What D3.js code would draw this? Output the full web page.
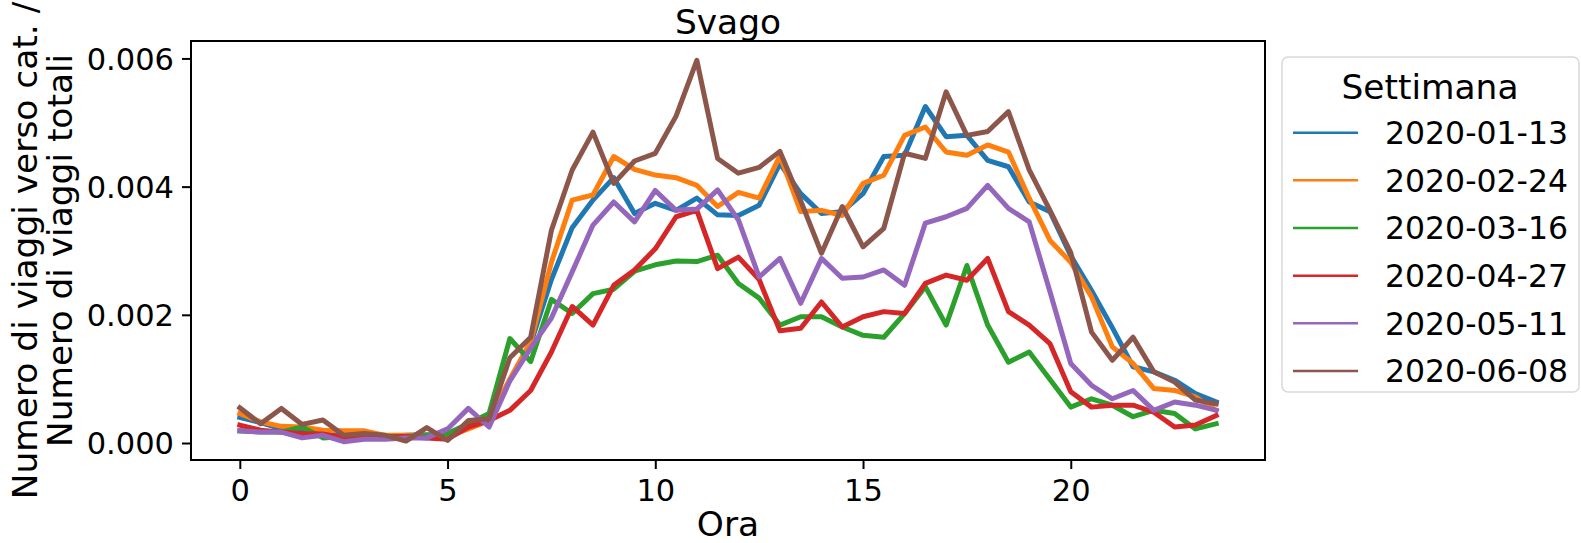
<!DOCTYPE html>
<html>
<head>
<meta charset="utf-8">
<script src="https://cdn.jsdelivr.net/npm/d3@7"></script>
<style>
  html, body { margin: 0; padding: 0; background: #fff; }
  svg { display: block; font-family: "DejaVu Sans", sans-serif; }
</style>
</head>
<body>
<svg id="chart" width="1581" height="543"></svg>
<script>
// ---- Data ----
const hours = d3.range(0, 24, 0.5);
const weeks = ["2020-01-13", "2020-02-24", "2020-03-16", "2020-04-27", "2020-05-11", "2020-06-08"];
const colors = ["#1f77b4", "#ff7f0e", "#2ca02c", "#d62728", "#9467bd", "#8c564b"];

const w20200113 = [0.00040,0.00032,0.00022,0.00018,0.00015,0.00012,0.00012,0.00010,0.00012,0.00013,0.00010,0.00025,0.00040,0.00098,0.00155,0.00255,0.00336,0.00379,0.00414,0.00358,0.00374,0.00363,0.00382,0.00356,0.00355,0.00371,0.00436,0.00389,0.00358,0.00361,0.00389,0.00447,0.00449,0.00525,0.00478,0.00480,0.00441,0.00431,0.00376,0.00361,0.00292,0.00238,0.00180,0.00119,0.00111,0.00098,0.00077,0.00064];
const w20200224 = [0.00046,0.00033,0.00026,0.00025,0.00020,0.00019,0.00019,0.00012,0.00012,0.00012,0.00010,0.00022,0.00035,0.00100,0.00158,0.00282,0.00379,0.00387,0.00447,0.00427,0.00418,0.00414,0.00402,0.00369,0.00391,0.00382,0.00448,0.00361,0.00363,0.00355,0.00405,0.00418,0.00480,0.00493,0.00454,0.00449,0.00465,0.00454,0.00382,0.00316,0.00282,0.00228,0.00150,0.00124,0.00085,0.00082,0.00072,0.00051];
const w20200316 = [0.00019,0.00017,0.00017,0.00025,0.00008,0.00010,0.00012,0.00010,0.00010,0.00012,0.00015,0.00030,0.00046,0.00163,0.00127,0.00224,0.00202,0.00233,0.00240,0.00268,0.00278,0.00284,0.00283,0.00293,0.00249,0.00226,0.00184,0.00197,0.00197,0.00181,0.00168,0.00165,0.00202,0.00244,0.00184,0.00277,0.00184,0.00126,0.00142,0.00099,0.00056,0.00069,0.00059,0.00041,0.00051,0.00046,0.00022,0.00030];
const w20200427 = [0.00028,0.00020,0.00017,0.00015,0.00014,0.00008,0.00008,0.00009,0.00010,0.00008,0.00006,0.00025,0.00035,0.00051,0.00082,0.00142,0.00213,0.00184,0.00246,0.00270,0.00303,0.00353,0.00363,0.00272,0.00290,0.00255,0.00175,0.00179,0.00220,0.00181,0.00197,0.00205,0.00202,0.00249,0.00262,0.00254,0.00288,0.00205,0.00184,0.00155,0.00080,0.00056,0.00059,0.00059,0.00048,0.00025,0.00028,0.00043];
const w20200511 = [0.00019,0.00017,0.00017,0.00008,0.00012,0.00002,0.00006,0.00006,0.00008,0.00008,0.00022,0.00054,0.00025,0.00097,0.00148,0.00195,0.00267,0.00340,0.00376,0.00345,0.00394,0.00363,0.00365,0.00395,0.00348,0.00259,0.00288,0.00218,0.00288,0.00257,0.00259,0.00270,0.00246,0.00343,0.00353,0.00366,0.00402,0.00366,0.00345,0.00236,0.00124,0.00090,0.00069,0.00082,0.00051,0.00064,0.00059,0.00051];
const w20200608 = [0.00055,0.00030,0.00054,0.00029,0.00036,0.00012,0.00015,0.00012,0.00003,0.00024,0.00004,0.00035,0.00038,0.00133,0.00165,0.00332,0.00426,0.00485,0.00405,0.00440,0.00452,0.00510,0.00597,0.00444,0.00421,0.00430,0.00455,0.00378,0.00296,0.00369,0.00306,0.00335,0.00452,0.00444,0.00548,0.00480,0.00486,0.00517,0.00426,0.00363,0.00297,0.00173,0.00129,0.00165,0.00111,0.00095,0.00067,0.00061];
const seriesValues = [w20200113, w20200224, w20200316, w20200427, w20200511, w20200608];

const xTicks = [0, 5, 10, 15, 20];
const yTicks = [0, 0.002, 0.004, 0.006];

// ---- Layout ----
const svg = d3.select("#chart");
const pLeft = 191, pRight = 1265, pTop = 41, pBottom = 460;
const TICK_FS = 30.5, LEG_FS = 31.5, LABEL_FS = 34.4;

const x = d3.scaleLinear().domain([-1.175, 24.675]).range([pLeft, pRight]);
const y = d3.scaleLinear().domain([-0.000265, 0.006272]).range([pBottom, pTop]);

// lines
const line = d3.line().x((d, i) => x(hours[i])).y(d => y(d));
const gLines = svg.append("g");
seriesValues.forEach((vals, k) => {
  gLines.append("path")
    .datum(vals)
    .attr("d", line)
    .attr("fill", "none")
    .attr("stroke", colors[k])
    .attr("stroke-width", 5)
    .attr("stroke-linejoin", "round")
    .attr("stroke-linecap", "square");
});

// frame
svg.append("rect")
  .attr("x", pLeft).attr("y", pTop)
  .attr("width", pRight - pLeft).attr("height", pBottom - pTop)
  .attr("fill", "none").attr("stroke", "#000").attr("stroke-width", 2);

// axes
const xAxis = d3.axisBottom(x).tickValues(xTicks).tickSize(9).tickPadding(10).tickFormat(d3.format("d"));
const gx = svg.append("g").attr("transform", `translate(0,${pBottom})`).call(xAxis);
const yAxis = d3.axisLeft(y).tickValues(yTicks).tickSize(9).tickPadding(8).tickFormat(d3.format(".3f"));
const gy = svg.append("g").attr("transform", `translate(${pLeft},0)`).call(yAxis);
[gx, gy].forEach(g => {
  g.select(".domain").remove();
  g.selectAll(".tick line").attr("stroke", "#000").attr("stroke-width", 2);
  g.selectAll(".tick text").attr("fill", "#000").style("font-size", TICK_FS + "px").style("font-family", "DejaVu Sans");
});
gy.selectAll(".tick text").attr("dy", "0.36em");

// title
svg.append("text").attr("x", (pLeft + pRight) / 2).attr("y", 34)
  .attr("text-anchor", "middle").style("font-size", LABEL_FS + "px").text("Svago");

// x label
svg.append("text").attr("x", (pLeft + pRight) / 2).attr("y", 536)
  .attr("text-anchor", "middle").style("font-size", LABEL_FS + "px").text("Ora");

// y label (two lines)
const yl = svg.append("text")
  .attr("transform", `translate(37,${(pTop + pBottom) / 2}) rotate(-90)`)
  .attr("text-anchor", "middle").style("font-size", LABEL_FS + "px");
yl.append("tspan").attr("x", 0).attr("y", 0).text("Numero di viaggi verso cat. /");
yl.append("tspan").attr("x", 0).attr("y", 35).text("Numero di viaggi totali");

// legend
const lg = svg.append("g");
lg.append("rect").attr("x", 1282).attr("y", 57).attr("width", 297).attr("height", 335)
  .attr("rx", 6).attr("fill", "#fff").attr("stroke", "#d9d9d9").attr("stroke-width", 1.5);
lg.append("text").attr("x", 1430).attr("y", 99).attr("text-anchor", "middle")
  .style("font-size", LABEL_FS + "px").text("Settimana");
weeks.forEach((w, k) => {
  const cy = 132.7 + k * 47.66;
  lg.append("line").attr("x1", 1293).attr("x2", 1358).attr("y1", cy).attr("y2", cy)
    .attr("stroke", colors[k]).attr("stroke-width", 2.5);
  lg.append("text").attr("x", 1385).attr("y", cy).attr("dy", "0.36em")
    .style("font-size", LEG_FS + "px").text(w);
});
</script>
</body>
</html>
